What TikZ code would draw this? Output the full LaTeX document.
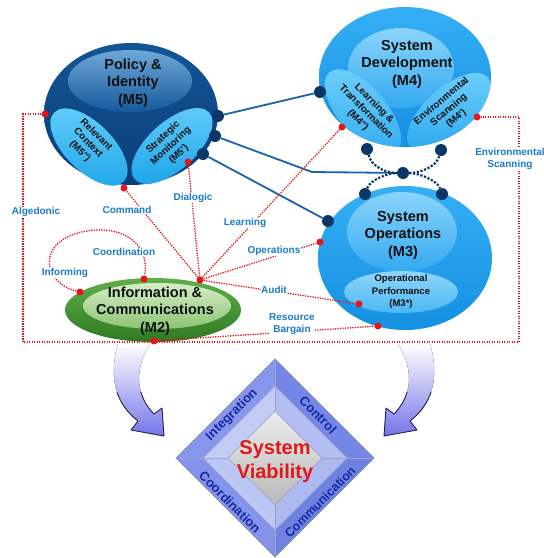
\documentclass[tikz,border=0pt]{standalone}
\usepackage{fontspec}
\setmainfont{Liberation Sans}
\usetikzlibrary{shapes.geometric}
\definecolor{m5top}{HTML}{135596}
\definecolor{m5bot}{HTML}{0B3D78}
\definecolor{m5hlt}{HTML}{6EA8D8}
\definecolor{m5hlb}{HTML}{16599C}
\definecolor{cyanL}{HTML}{63CDF9}
\definecolor{cyanD}{HTML}{1FA6EA}
\definecolor{sbTop}{HTML}{35AFF4}
\definecolor{sbBot}{HTML}{1590E2}
\definecolor{hlT}{HTML}{8AD4FA}
\definecolor{hlB}{HTML}{33A9F0}
\definecolor{subL}{HTML}{6FD0FA}
\definecolor{subD}{HTML}{30AAF0}
\definecolor{opT}{HTML}{8FD6FA}
\definecolor{opB}{HTML}{4AB8F3}
\definecolor{gA}{HTML}{5FAE4A}
\definecolor{gB}{HTML}{2E7A22}
\definecolor{gC}{HTML}{D5EDC6}
\definecolor{gD}{HTML}{8CC474}
\definecolor{navy}{HTML}{0B3766}
\definecolor{lineblue}{HTML}{1A63AB}
\definecolor{dotred}{HTML}{E8141A}
\definecolor{lblblue}{HTML}{1A7CCC}
\definecolor{txtblack}{HTML}{111111}
\definecolor{bTL}{HTML}{8797EE}
\definecolor{bTR}{HTML}{7486E6}
\definecolor{bBR}{HTML}{6F82E2}
\definecolor{bBL}{HTML}{8393EC}
\definecolor{mTL}{HTML}{C3CCF7}
\definecolor{mTR}{HTML}{B3BDF2}
\definecolor{mBR}{HTML}{AEB9F0}
\definecolor{mBL}{HTML}{BCC6F5}
\definecolor{divline}{HTML}{9DA3C8}
\definecolor{bandblue}{HTML}{1A2A9E}
\definecolor{sysred}{HTML}{E01818}
\definecolor{arrMid}{HTML}{4A4A72}
\definecolor{arrBot}{HTML}{7474EA}
\definecolor{arrEdge}{HTML}{24244E}
\newcommand{\myArrowPath}{(118,344) .. controls (108,378) and (116,404) .. (138,421) -- (131,430) -- (164,436) -- (162,408) -- (154,414) .. controls (138,398) and (132,372) .. (150,344) -- cycle}
\begin{document}
\begin{tikzpicture}[x=1pt,y=-1pt,
  title/.style={font=\fontsize{14.5}{17.5}\selectfont\bfseries, text=txtblack, align=center},
  subtxt/.style={font=\fontsize{9.8}{11.5}\selectfont\bfseries, text=txtblack, align=center},
  lbl/.style={font=\fontsize{10}{12.5}\selectfont\bfseries, text=lblblue, fill=white, inner sep=0.6pt, align=center},
  navydot/.style={circle, fill=navy, inner sep=0pt, minimum size=12pt},
  reddot/.style={circle, fill=dotred, inner sep=0pt, minimum size=7pt},
  blueline/.style={draw=lineblue, line width=1.8pt},
  redline/.style={draw=dotred, line width=1.3pt, dash pattern=on 1.3pt off 1.2pt},
  navydash/.style={draw=navy, line width=2.2pt, dash pattern=on 2.2pt off 1.6pt},
  bandtxt/.style={font=\fontsize{13}{15}\selectfont\bfseries, text=bandblue},
  ell/.style={ellipse, inner sep=0pt}]
\clip (0,0) rectangle (544,558);
\fill[white] (0,0) rectangle (544,558);

% ---------- M5 ----------
\node[ell, minimum width=174pt, minimum height=142pt, top color=m5top, bottom color=m5bot] (m5) at (131,114) {};
\node[ell, minimum width=124pt, minimum height=62pt, top color=m5hlt, bottom color=m5hlb] (m5hl) at (130,81) {};
\node[ell, minimum width=98pt, minimum height=48pt, rotate=-45, top color=cyanL, bottom color=cyanD] (m5rc) at (89,147) {};
\node[ell, minimum width=100pt, minimum height=48pt, rotate=42, top color=cyanL, bottom color=cyanD] (m5sm) at (172,146) {};
\node[title] (t5) at (133,83) {Policy \&\\Identity\\(M5)};
\node[subtxt, rotate=-45] (t5rc) at (88,143) {Relevant\\Context\\(M5″)};
\node[subtxt, rotate=43] (t5sm) at (171,146) {Strategic\\Monitoring\\(M5′)};

% ---------- M4 ----------
\node[ell, minimum width=172pt, minimum height=140pt, top color=sbTop, bottom color=sbBot] (m4) at (405,77) {};
\node[ell, minimum width=106pt, minimum height=80pt, top color=hlT, bottom color=hlB] (m4hl) at (401,68) {};
\begin{scope}
  \clip (405,77) ellipse [x radius=86pt, y radius=70pt];
  \node[ell, minimum width=104pt, minimum height=48pt, rotate=-50, top color=subL, bottom color=subD] (m4lt) at (363,112) {};
  \node[ell, minimum width=104pt, minimum height=48pt, rotate=42, top color=subL, bottom color=subD] (m4es) at (449,112) {};
\end{scope}
\node[title] (t4) at (407,64) {System\\Development\\(M4)};
\node[subtxt, rotate=-45] (t4lt) at (366,112) {Learning \&\\Transformation\\(M4″)};
\node[subtxt, rotate=40] (t4es) at (449,110) {Environmental\\Scanning\\(M4′)};

% ---------- M3 ----------
\node[ell, minimum width=174pt, minimum height=144pt, top color=sbTop, bottom color=sbBot] (m3) at (405,258) {};
\node[ell, minimum width=110pt, minimum height=80pt, top color=hlT, bottom color=hlB] (m3hl) at (402,232) {};
\node[ell, minimum width=114pt, minimum height=42pt, top color=opT, bottom color=opB] (m3op) at (401,292) {};
\node[title] (t3) at (403,235) {System\\Operations\\(M3)};
\node[font=\fontsize{9.5}{12.5}\selectfont\bfseries, text=txtblack, align=center] (t3op) at (401,292) {Operational\\Performance\\(M3*)};

% ---------- M2 ----------
\node[ell, minimum width=176pt, minimum height=64pt, top color=gA, bottom color=gB] (m2) at (153,310) {};
\node[ell, minimum width=148pt, minimum height=46pt, top color=gC, bottom color=gD] (m2hl) at (157,306) {};
\node[title] (t2) at (155,311) {Information \&\\Communications\\(M2)};

% ---------- dots ----------
\node[navydot] (n5a) at (218,116) {};
\node[navydot] (n5b) at (215,136) {};
\node[navydot] (n5c) at (203,154) {};
\node[navydot] (n4l) at (320,92) {};
\node[navydot] (n4bl) at (367,149) {};
\node[navydot] (n4br) at (441,150) {};
\node[navydot] (nc) at (403,173) {};
\node[navydot] (n3tl) at (365,194) {};
\node[navydot] (n3tr) at (442,194) {};
\node[navydot] (n3l) at (328,221) {};

\node[reddot] (r5l) at (45,114) {};
\node[reddot] (r5sm) at (188,162) {};
\node[reddot] (r5b) at (124,188) {};
\node[reddot] (r4lt) at (342,127) {};
\node[reddot] (r4es) at (477,117) {};
\node[reddot] (r3op) at (320,242) {};
\node[reddot] (r3au) at (359,304) {};
\node[reddot] (r3rb) at (378,326) {};
\node[reddot] (r2i) at (80,292) {};
\node[reddot] (r2c) at (144,279) {};
\node[reddot] (hub) at (200,280) {};

% ---------- blue connectors ----------
\coordinate (bend) at (312,172);
\draw[blueline] (n5a) -- (n4l);
\draw[blueline] (n5b) -- (bend) -- (nc);
\draw[blueline] (n5c) -- (n3l);
\draw[navydash] (n4bl) .. controls (372,168) and (388,173) .. (nc);
\draw[navydash] (nc) .. controls (418,173) and (436,168) .. (n4br);
\draw[navydash] (n3tl) .. controls (370,180) and (388,173) .. (nc);
\draw[navydash] (nc) .. controls (418,173) and (437,180) .. (n3tr);

% ---------- red dotted connectors ----------
\coordinate (a1) at (23,114);
\coordinate (a2) at (23,342);
\coordinate (a3) at (519,342);
\coordinate (a4) at (519,117);
\draw[redline] (r5l) -- (a1) -- (a2) -- (a3) -- (a4) -- (r4es);
\node[reddot] (r2b) at (154,341) {};
\draw[redline] (hub) -- (r5b);
\draw[redline] (hub) -- (r5sm);
\draw[redline] (hub) -- (r4lt);
\draw[redline] (hub) -- (r3op);
\draw[redline] (hub) -- (r3au);
\draw[redline] (r2b) -- (r3rb);
\coordinate (lpTop) at (95,230);
\draw[redline] (r2i) .. controls (40,282) and (35,235) .. (lpTop) .. controls (125,228) and (150,245) .. (r2c);

% ---------- labels ----------
\node[lbl] (lAlg) at (36,212) {Algedonic};
\node[lbl] (lCmd) at (127,210) {Command};
\node[lbl] (lDia) at (193,198) {Dialogic};
\node[lbl] (lLea) at (245,223) {Learning};
\node[lbl] (lCoo) at (124,252) {Coordination};
\node[lbl] (lInf) at (65,273) {Informing};
\node[lbl] (lOpe) at (274,251) {Operations};
\node[lbl] (lAud) at (274,290) {Audit};
\node[lbl] (lRes) at (292,324) {Resource\\Bargain};
\node[lbl] (lEnv) at (510,159) {Environmental\\Scanning};

% ---------- curved arrows ----------
\fill[top color=white, middle color=arrMid, bottom color=arrBot] \myArrowPath;
\begin{scope}
  \clip (0,392) rectangle (544,450);
  \draw[arrEdge, line width=0.9pt, line join=round] \myArrowPath;
\end{scope}
\begin{scope}[shift={(548,0)}, xscale=-1]
  \fill[top color=white, middle color=arrMid, bottom color=arrBot] \myArrowPath;
  \begin{scope}
    \clip (0,392) rectangle (544,450);
    \draw[arrEdge, line width=0.9pt, line join=round] \myArrowPath;
  \end{scope}
\end{scope}

% ---------- diamond ----------
\coordinate (dN) at (275,359); \coordinate (dE) at (374,458);
\coordinate (dS) at (275,557); \coordinate (dW) at (176,458);
\coordinate (mN) at (275,386); \coordinate (mE) at (347,458);
\coordinate (mS) at (275,530); \coordinate (mW) at (203,458);
\coordinate (iN) at (275,411); \coordinate (iE) at (322,458);
\coordinate (iS) at (275,505); \coordinate (iW) at (228,458);
\fill[bTL] (dW) -- (dN) -- (mN) -- (mW) -- cycle;
\fill[bTR] (dN) -- (dE) -- (mE) -- (mN) -- cycle;
\fill[bBR] (dE) -- (dS) -- (mS) -- (mE) -- cycle;
\fill[bBL] (dS) -- (dW) -- (mW) -- (mS) -- cycle;
\fill[mTL] (mW) -- (mN) -- (iN) -- (iW) -- cycle;
\fill[mTR] (mN) -- (mE) -- (iE) -- (iN) -- cycle;
\fill[mBR] (mE) -- (mS) -- (iS) -- (iE) -- cycle;
\fill[mBL] (mS) -- (mW) -- (iW) -- (iS) -- cycle;
\shade[top color=gray!15, bottom color=gray!55] (iN) -- (iE) -- (iS) -- (iW) -- cycle;
\draw[divline, line width=0.7pt] (dN) -- (iN) (dE) -- (iE) (dS) -- (iS) (dW) -- (iW);
\draw[divline, line width=0.7pt] (mN) -- (mE) -- (mS) -- (mW) -- cycle;
\draw[divline, line width=0.7pt] (iN) -- (iE) -- (iS) -- (iW) -- cycle;
\draw[divline!80!black, line width=0.6pt] (dN) -- (dE) -- (dS) -- (dW) -- cycle;
\node[bandtxt, rotate=45] (bInt) at (232,415) {Integration};
\node[bandtxt, rotate=-45] (bCon) at (318,415) {Control};
\node[bandtxt, rotate=-45] (bCoo) at (230,502) {Coordination};
\node[bandtxt, rotate=45, font=\fontsize{12.5}{15}\selectfont\bfseries] (bCom) at (320,502) {Communication};
\node[font=\fontsize{20}{24}\selectfont\bfseries, text=sysred, align=center] (sv) at (275,462) {System\\Viability};
\end{tikzpicture}
\end{document}
